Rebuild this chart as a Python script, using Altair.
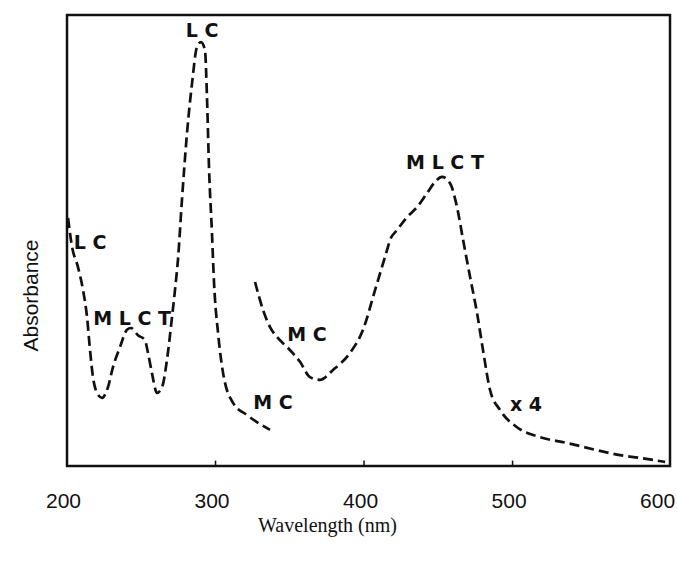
import altair as alt
import pandas as pd

# UV band (solid-scale part), wavelength in nm and relative absorbance
uv_nm = [200.7, 203.4, 207.4, 210.8, 213.5, 215.5, 217.5, 220.2, 223.6, 227.6,
         231.0, 235.7, 240.4, 243.1, 247.8, 252.5, 254.5, 257.2, 260.6, 264.0,
         267.3, 270.7, 272.7, 274.7, 277.4, 280.8, 284.2, 287.5, 290.2, 292.9,
         294.3, 295.6, 297.6, 299.0, 301.7, 305.1, 311.8, 321.2, 336.7]
uv_abs = [0.550, 0.486, 0.441, 0.390, 0.330, 0.257, 0.197, 0.162, 0.151, 0.175,
          0.220, 0.264, 0.302, 0.306, 0.290, 0.279, 0.251, 0.206, 0.162, 0.175,
          0.235, 0.330, 0.390, 0.457, 0.590, 0.738, 0.849, 0.929, 0.940, 0.922,
          0.812, 0.663, 0.517, 0.406, 0.295, 0.206, 0.140, 0.113, 0.080]

# Visible band (x4 scale)
vis_nm = [326.6, 332.0, 336.7, 341.4, 348.1, 356.9, 363.6, 370.4, 379.1, 390.6,
          399.3, 407.4, 415.5, 417.5, 422.2, 429.0, 435.7, 442.4, 447.8, 452.5,
          457.9, 462.6, 466.7, 471.4, 476.1, 480.1, 484.8, 491.6, 503.0, 518.5,
          536.7, 556.9, 572.4, 585.9, 602.7]
vis_abs = [0.408, 0.346, 0.308, 0.286, 0.264, 0.231, 0.197, 0.191, 0.213, 0.251,
           0.302, 0.390, 0.479, 0.501, 0.523, 0.552, 0.574, 0.605, 0.630, 0.641,
           0.627, 0.574, 0.501, 0.419, 0.339, 0.257, 0.169, 0.124, 0.086, 0.064,
           0.051, 0.035, 0.024, 0.018, 0.009]

# Band assignments
label_text = ["L C", "L C", "M L C T", "M C", "M C", "M L C T", "x\u00a04"]
label_nm = [290.9, 215.5, 243.8, 361.6, 338.7, 454.5, 509.0]
label_abs = [0.965, 0.494, 0.326, 0.290, 0.140, 0.672, 0.135]

tick_values = [200, 300, 400, 500, 600]
inner_ticks = [300, 400, 500]

curves = pd.DataFrame(
    {"nm": uv_nm + vis_nm,
     "A": uv_abs + vis_abs,
     "band": ["uv"] * len(uv_nm) + ["vis"] * len(vis_nm),
     "order": list(range(len(uv_nm))) + list(range(len(vis_nm)))}
)
labels = pd.DataFrame({"nm": label_nm, "A": label_abs, "t": label_text})
ticks = pd.DataFrame({"nm": inner_ticks, "y0": [0.0] * 3, "y1": [0.012] * 3})

xscale = alt.Scale(domain=[200, 606], nice=False, zero=False)
yscale = alt.Scale(domain=[0, 1], nice=False, zero=False)

xaxis = alt.Axis(values=tick_values, ticks=False, domain=False, grid=False,
                 labelFont="Liberation Sans", labelFontSize=21, labelColor="#111",
                 labelPadding=24, labelFlush=False, labelOffset=-4,
                 title="Wavelength (nm)", titleFont="Liberation Serif",
                 titleFontSize=20, titleFontWeight="normal", titleColor="#111",
                 titleX=260, titleY=65, titleAlign="center", titleBaseline="alphabetic")
yaxis = alt.Axis(labels=False, ticks=False, domain=False, grid=False,
                 title="Absorbance", titleFont="Liberation Sans", titleFontSize=21,
                 titleFontWeight="normal", titleColor="#111",
                 titleX=-30, titleY=280, titleAngle=-90, titleAlign="center",
                 titleBaseline="alphabetic")

lines = alt.Chart(curves).mark_line(
    color="#111", strokeWidth=2.7, strokeDash=[10, 5], interpolate="monotone"
).encode(
    x=alt.X("nm:Q", scale=xscale, axis=xaxis),
    y=alt.Y("A:Q", scale=yscale, axis=yaxis),
    detail="band:N",
    order="order:Q",
)

tickmarks = alt.Chart(ticks).mark_rule(color="#111", strokeWidth=1.5).encode(
    x=alt.X("nm:Q", scale=xscale),
    y=alt.Y("y0:Q", scale=yscale),
    y2="y1:Q",
)

text = alt.Chart(labels).mark_text(
    font="DejaVu Sans", fontSize=19, fontWeight="bold", color="#111",
    align="center", baseline="middle"
).encode(
    x=alt.X("nm:Q", scale=xscale),
    y=alt.Y("A:Q", scale=yscale),
    text="t:N",
)

chart = (lines + tickmarks + text).properties(
    width=603, height=451,
    autosize=alt.AutoSizeParams(type="none"),
    padding={"left": 67, "top": 15, "right": 7, "bottom": 96},
    background="white",
).configure_view(stroke="#111", strokeWidth=2.5)

chart.save("out.html", embed_options={"renderer": "svg", "actions": False})
